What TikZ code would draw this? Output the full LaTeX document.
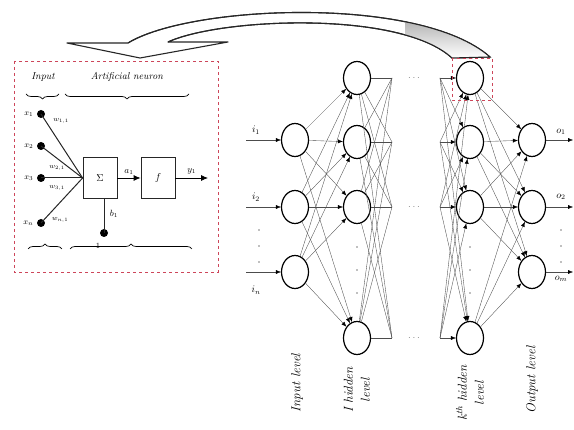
\documentclass[tikz,border=0pt]{standalone}
\usetikzlibrary{shapes.geometric,arrows.meta,decorations.pathreplacing}

\definecolor{boxred}{RGB}{205,70,90}
\definecolor{shade}{RGB}{195,195,195}

\tikzset{
  neuron/.style={ellipse, draw, line width=1.2pt, minimum width=27pt, minimum height=33pt, inner sep=0pt},
  link/.style={gray!60!black, line width=0.35pt},
  linkarrow/.style={link, -{Latex[length=5pt,width=4pt,color=black]}},
  dot/.style={circle, fill, inner sep=0pt, minimum size=8pt},
  opbox/.style={draw, gray!30!black, line width=0.8pt, minimum width=34pt, minimum height=41pt, text=black},
  levellabel/.style={rotate=90, font=\fontsize{13}{17}\selectfont\itshape, align=center},
  bracedown/.style={decorate, decoration={brace, amplitude=5pt}, line width=0.7pt},
}

\begin{document}
\begin{tikzpicture}[x=1pt, y=-1pt]
		\useasboundingbox (0,0) rectangle (574,430);

		% draw the big curved arrow
		\coordinate (arrowtail) at (490,57);
		\coordinate (arrowinner) at (452,58);
		\filldraw [fill=white, draw=gray!30!black, line width=1.1pt, line join=round]
			(128,43) -- (67,43) -- (140,58) -- (228,42) -- (168,42)
			.. controls (220,18) and (400,10) .. (arrowinner) -- (arrowtail)
			.. controls (420,-5) and (190,5) .. (128,43) -- cycle;
		\begin{scope}
			\clip (405,0) rectangle (500,60);
			\fill [shade] (168,42) .. controls (220,18) and (400,10) .. (arrowinner) -- (arrowtail)
				.. controls (420,-5) and (190,5) .. (128,43) -- cycle;
		\end{scope}
		\draw [line width=1.1pt, draw=gray!30!black] (168,42) .. controls (220,18) and (400,10) .. (arrowinner) -- (arrowtail)
			.. controls (420,-5) and (190,5) .. (128,43);

		% draw the artificial neuron
		\draw [boxred, dashed, line width=0.8pt] (14,61) rectangle (218,272);
		\node (inputlabel) at (43,77) {\itshape Input};
		\node (neuronlabel) at (127,77) {\itshape Artificial neuron};
		\draw [bracedown] (59,94) -- (26,94);
		\draw [bracedown] (189,94) -- (65,94);
		\draw [bracedown] (28,249) -- (62,249);
		\draw [bracedown] (70,249) -- (192,249);

		\node[opbox] (sum) at (100,178) {$\Sigma$};
		\node[opbox] (act) at (158,178) {$f$};
		\coordinate (yout) at (208,178);

		\node[dot] (x1) at (41,114) {};
		\node[dot] (x2) at (41,146) {};
		\node[dot] (x3) at (41,178) {};
		\node[dot] (xn) at (41,223) {};
		\node[dot] (bias) at (104,233) {};
		\foreach \x/\t in {x1/1, x2/2, x3/3, xn/n}
			\node [left=0pt, font=\footnotesize] at (\x.west) {$x_\t$};

		\foreach \x in {x1, x2, x3, xn}
			\draw [gray!30!black, line width=1pt] (\x.center) -- (sum.west);
		\draw [gray!30!black, line width=0.8pt] (bias.center) -- (sum.south -| bias);
		\draw [-{Latex[length=7pt,width=6pt]}, line width=0.8pt] (sum) -- (act) node [midway, above, font=\small] {$a_1$};
		\draw [-{Latex[length=7pt,width=6pt]}, line width=0.8pt] (act) -- (yout) node [pos=0.5, above, font=\small] {$y_1$};

		\draw (61,121) node [font=\scriptsize] {$w_{1,1}$};
		\draw (57,168) node [font=\scriptsize] {$w_{2,1}$};
		\draw (57,188) node [font=\scriptsize] {$w_{3,1}$};
		\draw (60,220) node [font=\scriptsize] {$w_{n,1}$};
		\draw (114,214) node [font=\small] {$b_1$};
		\draw (98,246) node [font=\footnotesize] {$1$};

		% draw the network levels
		\node[neuron] (i1) at (295,140) {};
		\node[neuron] (i2) at (295,207) {};
		\node[neuron] (in) at (295,272) {};
		\node[neuron] (h11) at (357,78) {};
		\node[neuron] (h12) at (357,142) {};
		\node[neuron] (h13) at (357,207) {};
		\node[neuron] (h14) at (357,338) {};
		\node[neuron] (hk1) at (470,78) {};
		\node[neuron] (hk2) at (470,142) {};
		\node[neuron] (hk3) at (470,207) {};
		\node[neuron] (hk4) at (470,338) {};
		\node[neuron] (o1) at (532,140) {};
		\node[neuron] (o2) at (532,207) {};
		\node[neuron] (om) at (532,272) {};

		\foreach \r/\y in {1/78, 2/142, 3/207, 4/338} {
			\coordinate (fanout\r) at (392,\y);
			\coordinate (fanin\r) at (440,\y);
		}

		% draw the connections
		\foreach \a in {i1, i2, in}
			\foreach \b in {h11, h12, h13, h14}
				\draw [linkarrow] (\a) -- (\b);
		\foreach \a in {h11, h12, h13, h14}
			\foreach \r in {1, 2, 3, 4}
				\draw [link] (\a) -- (fanout\r);
		\foreach \a in {hk1, hk2, hk3, hk4}
			\foreach \r in {1, 2, 3, 4}
				\draw [linkarrow] (fanin\r) -- (\a);
		\foreach \a in {hk1, hk2, hk3, hk4}
			\foreach \b in {o1, o2, om}
				\draw [linkarrow] (\a) -- (\b);

		% inputs and outputs
		\foreach \n/\t/\ly in {i1/1/130, i2/2/197, in/n/290} {
			\coordinate (src\n) at (246, 0 |- \n);
			\draw [linkarrow] (src\n) -- (\n);
			\node (lab\n) at (256,\ly) {$i_\t$};
		}
		\foreach \n/\t/\ly in {o1/1/132, o2/2/197, om/m/279} {
			\coordinate (dst\n) at (573, 0 |- \n);
			\draw [linkarrow] (\n) -- (dst\n);
			\node (lab\n) at (561,\ly) {$o_\t$};
		}

		% draw the dots
		\foreach \y in {230, 246, 262} {
			\fill [gray] (259,\y) circle (0.8);
			\fill [gray] (561,\y) circle (0.8);
		}
		\foreach \y in {247, 270, 293} {
			\fill [gray] (357,\y) circle (0.8);
			\fill [gray] (470,\y) circle (0.8);
		}
		\foreach \y in {78, 207, 338}
			\node [gray] at (414,\y) {$\cdots$};

		\draw [boxred, dashed, line width=0.6pt] (452,58) rectangle (492,100);

		% level labels
		\node[levellabel] (inputlevel) at (297,383) {Input level};
		\node[levellabel] (firstlevel) at (357,390) {I hidden\\level};
		\node[levellabel] (klevel) at (470,393) {k\textsuperscript{th} hidden\\level};
		\node[levellabel] (outputlevel) at (532,380) {Output level};
\end{tikzpicture}
\end{document}
